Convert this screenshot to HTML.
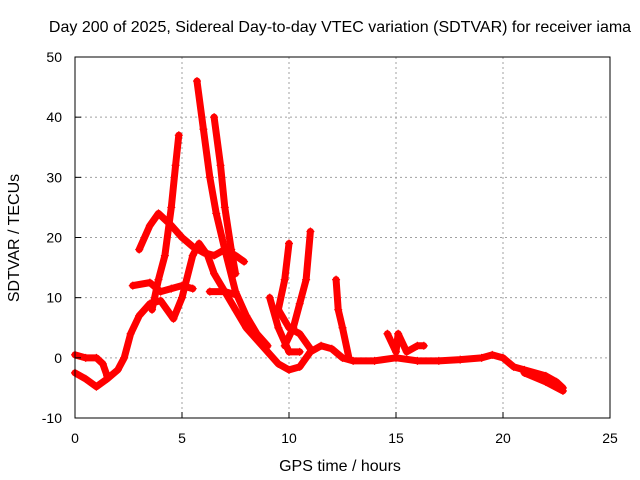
<!DOCTYPE html>
<html><head><meta charset="utf-8"><style>
body{margin:0;background:#fff}
svg{display:block;font-family:"Liberation Sans",sans-serif}
</style></head><body>
<svg id="chart" width="640" height="480" viewBox="0 0 640 480">
<rect width="640" height="480" fill="#fff"/>
<text x="340" y="32" font-size="16" text-anchor="middle">Day 200 of 2025, Sidereal Day-to-day VTEC variation (SDTVAR) for receiver iama</text>
<g id="grid"></g><g id="series"></g><g id="axes"></g>
<text x="340" y="471" font-size="16" text-anchor="middle">GPS time / hours</text>
<text transform="translate(19,238) rotate(-90)" font-size="16" text-anchor="middle">SDTVAR / TECUs</text>
</svg>
<script>
const xTicks=[0,5,10,15,20,25];
const yTicks=[-10,0,10,20,30,40,50];
const track1=[[0,0.5],[0.5,0],[1,0],[1.3,-1],[1.5,-3]];
const track2=[[0,-2.5],[0.5,-3.5],[1,-4.8],[1.5,-3.5],[2,-2],[2.3,0],[2.6,4],[3,7],[3.5,9],[4,9.5],[4.3,8],[4.6,6.5],[5,10],[5.5,17],[5.8,19],[6.2,17],[6.5,14],[7,11],[7.5,8],[8,5],[8.5,3],[9,1],[9.5,-1],[10,-2],[10.5,-1.5],[11,1],[11.5,2],[12,1.5],[12.5,0],[13,-0.5],[14,-0.5],[15,0],[16,-0.5],[17,-0.5],[18,-0.3],[19,0],[19.5,0.5],[20,0],[20.5,-1.5],[21,-2],[22,-3],[22.5,-4],[22.8,-5]];
const track3=[[21,-2.5],[22,-4],[22.8,-5.5]];
const track4=[[2.7,12],[3.5,12.5],[4,11],[4.5,11.5],[5,12],[5.5,11.5]];
const track5=[[3,18],[3.5,22],[3.9,24],[4.2,23],[4.5,22],[5,20],[5.5,18.5],[6,17.5],[6.5,17],[7,18],[7.5,17],[7.9,16]];
const track6=[[3.6,8],[3.9,13],[4.2,17],[4.5,25],[4.7,32],[4.85,37]];
const track7=[[5.7,46],[6,38],[6.3,30],[6.6,24],[7,18],[7.5,11],[8,7],[8.5,4],[9,2]];
const track8=[[6.5,40],[6.8,32],[7,25],[7.3,18],[7.5,14]];
const track9=[[6.3,11],[7,11],[7.5,10.5]];
const track10=[[9.1,10],[9.5,5],[10,1],[10.5,1]];
const track11=[[10,19],[9.8,13],[9.5,8],[10,5],[10.5,4],[11,1.5]];
const track12=[[11,21],[10.8,13],[10.5,9],[10.2,5],[9.8,2]];
const track13=[[12.2,13],[12.3,8],[12.5,5],[12.8,0]];
const track14=[[14.6,4],[15,1],[15.1,4],[15.5,1],[16,2],[16.3,2]];
const tracks=[track1,track2,track3,track4,track5,track6,track7,track8,track9,track10,track11,track12,track13,track14];
const X0=75,X1=610,Y0=418,Y1=57;
const xs=v=>X0+(v-0)/(25-0)*(X1-X0);
const ys=v=>Y0-(v+10)/(60)*(Y0-Y1);
const NS="http://www.w3.org/2000/svg";
function mk(t,a,p){const e=document.createElementNS(NS,t);for(const k in a)e.setAttribute(k,a[k]);p.appendChild(e);return e;}
const grid=document.getElementById('grid'),axes=document.getElementById('axes'),ser=document.getElementById('series');
xTicks.forEach(t=>{const x=xs(t);
 if(t>0&&t<25){const l=mk('line',{x1:x,x2:x,y1:Y1,y2:Y0,stroke:'#a0a0a0','stroke-dasharray':'2,3'},grid);}
 const s=mk('line',{x1:x,x2:x,y1:Y0,y2:Y0-6,stroke:'#000'},axes);
 const tx=mk('text',{x:x,y:443,'font-size':14,'text-anchor':'middle'},axes);tx.textContent=t;});
yTicks.forEach(t=>{const y=ys(t);
 if(t>-10&&t<50){const l=mk('line',{x1:X0,x2:X1,y1:y,y2:y,stroke:'#a0a0a0','stroke-dasharray':'2,3'},grid);}
 const s=mk('line',{x1:X0,x2:X0+6,y1:y,y2:y,stroke:'#000'},axes);
 const tx=mk('text',{x:62,y:y+5,'font-size':14,'text-anchor':'end'},axes);tx.textContent=t;});
const fr=mk('rect',{x:X0,y:Y1,width:X1-X0,height:Y0-Y1,fill:'none',stroke:'#000'},axes);

tracks.forEach(tr=>{
 const pl=mk('polyline',{points:tr.map(p=>xs(p[0])+','+ys(p[1])).join(' '),fill:'none',stroke:'#ff0000','stroke-width':7,'stroke-linejoin':'round','stroke-linecap':'round'},ser);
 
 tr.forEach(p=>{const x=xs(p[0]),y=ys(p[1]);
  const m=mk('path',{d:`M${x-4},${y}H${x+4}M${x},${y-4}V${y+4}`,stroke:'#ff0000','stroke-width':1.2},ser);
  });
});
</script>
</body></html>
